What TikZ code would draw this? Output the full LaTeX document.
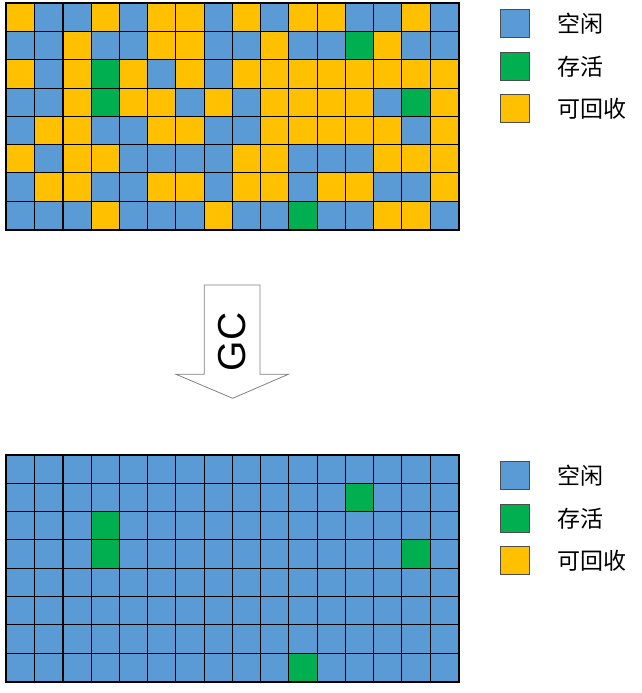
\documentclass[tikz,border=0pt]{standalone}
\usepackage{fontspec}
\newfontfamily\cjk{Noto Sans CJK SC}
\newfontfamily\lat{Liberation Sans}
\definecolor{B}{HTML}{5B9BD5}
\definecolor{G}{HTML}{00B050}
\definecolor{Y}{HTML}{FFC000}
\tikzset{
  cell/.style={draw=black, line width=1.1pt, inner sep=0pt, minimum width=28.24pt, minimum height=28.25pt},
  legbox/.style={draw=black!70, line width=0.8pt, inner sep=0pt, minimum width=28.5pt, minimum height=28pt},
  legtext/.style={anchor=west, inner sep=0pt, font=\cjk\fontsize{23}{26}\selectfont},
  gcarrow/.style={fill=white, draw=black!50, line width=0.8pt, line join=miter},
  frame/.style={draw=black, line width=1.5pt}
}
\begin{document}
\begin{tikzpicture}[x=1pt,y=-1pt]
\useasboundingbox (0,0) rectangle (641,693);
% top grid
\foreach \row [count=\r from 0] in {
 {Y,B,B,Y,B,Y,Y,B,Y,B,Y,Y,B,B,Y,B},
 {B,B,Y,B,B,Y,Y,B,B,Y,B,B,G,Y,B,B},
 {Y,B,Y,G,Y,B,Y,B,Y,Y,Y,Y,Y,Y,Y,Y},
 {B,B,Y,G,Y,Y,B,Y,B,Y,Y,Y,Y,B,G,Y},
 {B,Y,Y,B,B,Y,Y,B,B,Y,Y,Y,Y,Y,B,Y},
 {Y,B,Y,Y,B,B,B,B,Y,Y,B,B,B,Y,Y,Y},
 {B,Y,Y,B,B,Y,Y,B,Y,Y,B,Y,Y,B,B,Y},
 {B,B,B,Y,B,B,B,Y,B,B,G,B,B,Y,Y,B}} {
  \foreach \c [count=\k from 0] in \row {
    \node[cell, fill=\c] (t-\r-\k) at ({6.5+28.24*(\k+0.5)},{3.3+28.25*(\r+0.5)}) {};
  }
}
\draw[frame] (t-0-0.north west) rectangle (t-7-15.south east);
% bottom grid
\foreach \r in {0,...,7} {
  \foreach \k in {0,...,15} {
    \node[cell, fill=B] (b-\r-\k) at ({6.5+28.24*(\k+0.5)},{455+28.3*(\r+0.5)}) {};
  }
}
\foreach \r/\k in {1/12,2/3,3/3,3/14,7/10} {
  \node[cell, fill=G] (g-\r-\k) at ({6.5+28.24*(\k+0.5)},{455+28.3*(\r+0.5)}) {};
}
\draw[frame] (b-0-0.north west) rectangle (b-7-15.south east);
% legends
\foreach \dy/\n in {0/t,452.3/b} {
  \node[legbox, fill=B] (\n lb1) at (514.7,{23.3+\dy}) {};
  \node[legbox, fill=G] (\n lb2) at (514.7,{66.2+\dy}) {};
  \node[legbox, fill=Y] (\n lb3) at (514.7,{108.5+\dy}) {};
  \node[legtext] (\n lt1) at (557,{23.5+\dy}) {空闲};
  \node[legtext] (\n lt2) at (557,{66.5+\dy}) {存活};
  \node[legtext] (\n lt3) at (557,{108.5+\dy}) {可回收};
}
% GC arrow
\draw[gcarrow] (204.3,285) -- (260,285) -- (260,374.3) -- (288.3,374.3) -- (232.7,398.3) -- (176,374.3) -- (204.3,374.3) -- cycle;
\node[rotate=90, inner sep=0pt, font=\lat\fontsize{39}{40}\selectfont] (gc) at (232,342) {GC};
\end{tikzpicture}
\end{document}
